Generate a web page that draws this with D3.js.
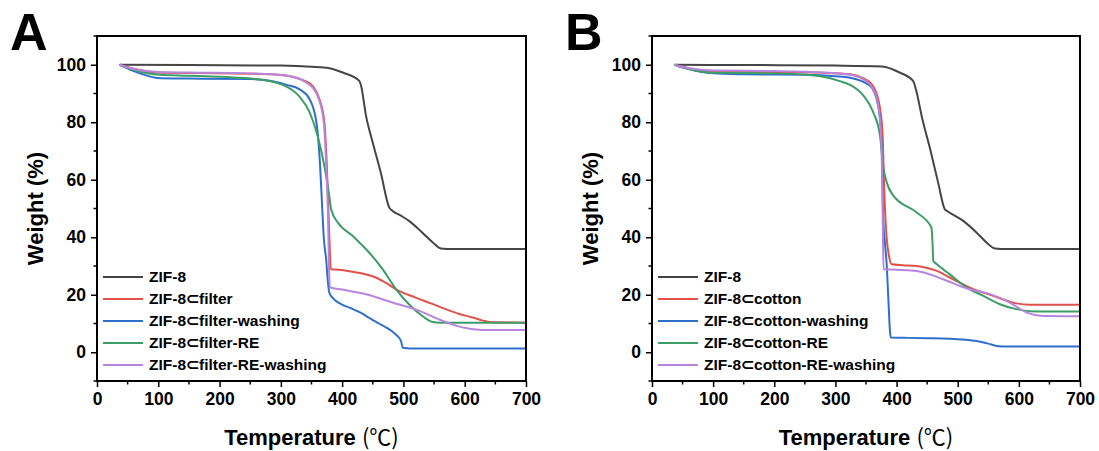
<!DOCTYPE html>
<html>
<head>
<meta charset="utf-8">
<script src="https://cdn.jsdelivr.net/npm/d3@7"></script>
<style>
  body { margin: 0; background: #fff; }
  text { font-family: Arial, "Liberation Sans", sans-serif; }
</style>
</head>
<body>
<div id="chart"></div>
<script>
// TGA curves, [temperature, weight %]
const aZif8 = [[37,100],[150,99.9],[300,99.7],[350,99.3],[379,98.8],[401,97.3],[428,94.4],[431,92.6],[439,82.2],[450,72.9],[463,62.5],[477,50.3],[482,49.2],[495,47.6],[509,45.7],[531,41.6],[548,38.2],[561,36.1],[580,35.9],[700,35.9]];
const aFilter = [[37,100],[60,98.6],[100,97.3],[150,97.1],[250,96.9],[292,96.6],[325,95.5],[340,94.3],[352,92.6],[363,88],[371,80],[375,65],[378,47],[380,35],[381.5,28.9],[395,28.7],[412,28.2],[435,27.3],[455,26],[470,24.3],[488,21.9],[520,19],[545,17],[569,15],[590,13.4],[613,12.1],[630,11],[645,10.4],[700,10.3]];
const aFilterWash = [[37,100],[60,97.8],[103,95.3],[150,95.2],[250,95],[282,94.4],[310,93],[330,91.5],[347,88],[358,80],[364,65],[367.5,50],[370,40],[374,32],[377,24],[379,20.8],[385,18.8],[390,17.8],[400,16.6],[412,15.5],[430,13.8],[444,12],[460,10],[472,8.6],[482,7.2],[490,5.7],[496,3.9],[499,1.6],[520,1.3],[700,1.3]];
const aFilterRe = [[37,100],[60,98.2],[103,96.5],[150,96.2],[205,95.8],[260,95],[303,93],[330,89],[347,83.4],[360,75.2],[371,64.8],[379,54.4],[382,49.7],[393,45.1],[417,40.5],[444,34.7],[466,28.9],[488,21.9],[509,16.7],[531,12.6],[548,10.5],[560,10.3],[700,10.3]];
const aFilterReWash = [[37,100],[60,98.5],[100,97.5],[150,97.3],[250,97],[290,96.6],[325,95.5],[340,94],[352,92],[362,88],[370,80],[374,65],[377,47],[378.5,30],[380,22.6],[400,21.8],[439,20.2],[482,17.3],[526,14.4],[564,10.9],[590,9],[602,8.4],[618,7.9],[640,7.7],[700,7.7]];

const bZif8 = [[37,100],[150,99.9],[300,99.7],[376,99.4],[405,97.3],[427,94.4],[433,90.3],[441,82.2],[455,70.6],[468,59],[479,49.7],[482,49.2],[509,45.7],[531,41.6],[547,38.2],[561,36.1],[580,35.9],[700,35.9]];
const bCotton = [[37,100],[60,98.8],[100,97.7],[200,97.5],[280,97.2],[324,96.7],[345,95.3],[357,93.8],[370,88],[377,76.4],[379,62],[381,50],[384,39.3],[388,33],[392,30.6],[410,30.3],[433,30],[450,29.3],[466,28.3],[487,26],[520,22.5],[558,19.6],[596,17],[618,16.5],[700,16.5]];
const bCottonWash = [[37,100],[60,98.5],[100,97],[150,96.7],[250,96.5],[300,96],[324,95.5],[357,92.6],[370,85.7],[376,70.6],[378,47.4],[381,38],[384,30],[386.6,18.4],[389,8],[390.4,5.1],[420,5],[450,4.9],[487,4.7],[510,4.4],[531,3.9],[550,3],[564,2.2],[580,2],[700,2]];
const bCottonRe = [[37,100],[60,98.5],[100,97.2],[200,97],[253,96.5],[280,95.8],[307,94.3],[324,93],[346,89.2],[362,83.4],[373,75.2],[378,64.8],[384,59],[395,54.4],[400,53.2],[433,48.6],[457,43.4],[459,37],[460,31.8],[466,30.6],[487,27.1],[515,22.5],[542,19.6],[569,16.7],[596,15],[618,14.3],[640,14.2],[700,14.2]];
const bCottonReWash = [[37,100],[60,98.8],[100,98],[200,97.8],[280,97.3],[324,96.5],[345,95],[357,93],[368,88],[374,78],[376,65],[377.5,45],[378.6,28.9],[400,28.7],[433,28.3],[476,25.4],[515,22.2],[553,20.2],[585,17.3],[613,13.8],[640,12.6],[700,12.5]];

const namesA = ["ZIF-8", "ZIF-8\u2282filter", "ZIF-8\u2282filter-washing", "ZIF-8\u2282filter-RE", "ZIF-8\u2282filter-RE-washing"];
const namesB = ["ZIF-8", "ZIF-8\u2282cotton", "ZIF-8\u2282cotton-washing", "ZIF-8\u2282cotton-RE", "ZIF-8\u2282cotton-RE-washing"];
const colors = ["#454545", "#e0524a", "#2f6fcc", "#3c9d68", "#b884dc"];

const xTicks = [0, 100, 200, 300, 400, 500, 600, 700];
const yTicks = [0, 20, 40, 60, 80, 100];

const width = 1099, height = 451;
const plotTop = 36, plotBottom = 381;

var svg = d3.select("#chart").append("svg")
    .attr("width", width)
    .attr("height", height);

svg.append("rect").attr("width", width).attr("height", height).attr("fill", "#fff");

drawPanel("A", 97, 526, 10, [aZif8, aFilter, aFilterWash, aFilterRe, aFilterReWash], namesA);
drawPanel("B", 652, 1080, 565, [bZif8, bCotton, bCottonWash, bCottonRe, bCottonReWash], namesB);

function drawPanel(label, left, right, labelX, series, names) {
    const x = d3.scaleLinear().domain([0, 700]).range([left, right]);
    const y = d3.scaleLinear().domain([-10, 110]).range([plotBottom, plotTop]);

    // minor ticks
    const g = svg.append("g");
    g.selectAll(".xminor")
        .data(d3.range(50, 700, 100))
        .enter().append("line")
        .attr("x1", d => x(d)).attr("x2", d => x(d))
        .attr("y1", plotBottom).attr("y2", plotBottom + 3.5)
        .attr("stroke", "#000").attr("stroke-width", 1.5);
    g.selectAll(".yminor")
        .data([-10, 10, 30, 50, 70, 90, 110])
        .enter().append("line")
        .attr("x1", left).attr("x2", left - 3.5)
        .attr("y1", d => y(d)).attr("y2", d => y(d))
        .attr("stroke", "#000").attr("stroke-width", 1.5);

    const xAxis = svg.append("g")
        .attr("transform", "translate(0," + plotBottom + ")")
        .call(d3.axisBottom(x).tickValues(xTicks).tickSize(6).tickPadding(6).tickFormat(d3.format("d")));
    const yAxis = svg.append("g")
        .attr("transform", "translate(" + left + ",0)")
        .call(d3.axisLeft(y).tickValues(yTicks).tickSize(6).tickPadding(5).tickFormat(d3.format("d")));

    [xAxis, yAxis].forEach(a => {
        a.select(".domain").remove();
        a.selectAll(".tick line").attr("stroke", "#000").attr("stroke-width", 1.5);
        a.selectAll(".tick text")
            .attr("fill", "#000")
            .style("font-size", "17.5px")
            .style("font-weight", "bold");
    });

    const line = d3.line()
        .x(d => x(d[0]))
        .y(d => y(d[1]))
        .curve(d3.curveMonotoneX);

    svg.append("g").selectAll("path")
        .data(series)
        .enter().append("path")
        .attr("d", line)
        .attr("fill", "none")
        .attr("stroke", (d, i) => colors[i])
        .attr("stroke-width", 2)
        .attr("stroke-linejoin", "round");

    // frame
    svg.append("rect")
        .attr("x", left).attr("y", plotTop)
        .attr("width", right - left).attr("height", plotBottom - plotTop)
        .attr("fill", "none").attr("stroke", "#000").attr("stroke-width", 2);

    // legend
    const legend = svg.selectAll(".legend" + label)
        .data(names)
        .enter().append("g")
        .attr("transform", (d, i) => "translate(" + (left + 6) + "," + (277 + i * 22) + ")");
    legend.append("line")
        .attr("x1", 0).attr("x2", 40)
        .attr("stroke", (d, i) => colors[i])
        .attr("stroke-width", 2);
    legend.append("text")
        .attr("x", 46)
        .attr("dy", "0.35em")
        .style("font-size", "15.5px")
        .style("font-weight", "bold")
        .text(d => d);

    // axis titles
    svg.append("text")
        .attr("transform", "translate(" + (left - 62) + "," + ((plotTop + plotBottom) / 2) + ") rotate(-90)")
        .attr("text-anchor", "middle")
        .attr("dy", "0.35em")
        .style("font-size", "22px")
        .style("font-weight", "bold")
        .text("Weight (%)");

    const xt = svg.append("text")
        .attr("x", (left + right) / 2)
        .attr("y", 445)
        .attr("text-anchor", "middle")
        .style("font-size", "22px");
    xt.append("tspan").style("font-weight", "bold").text("Temperature ");
    xt.append("tspan").style("font-family", "'Noto Sans CJK SC', sans-serif").style("font-weight", "normal").text("(\u2103)");

    svg.append("text")
        .attr("x", labelX)
        .attr("y", 50)
        .style("font-size", "52px")
        .style("font-weight", "bold")
        .text(label);
}
</script>
</body>
</html>
